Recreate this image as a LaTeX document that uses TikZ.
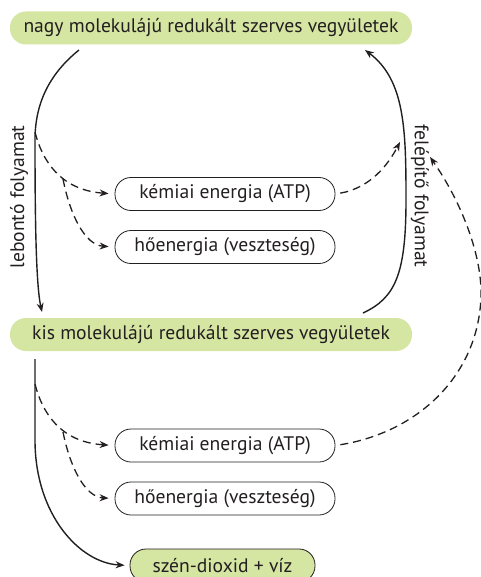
\documentclass[tikz,border=0pt]{standalone}
\usepackage{fontspec}
\setmainfont{PT Sans}
\usetikzlibrary{arrows.meta}
\definecolor{lgreen}{RGB}{213,229,162}
\definecolor{ink}{RGB}{35,31,32}
\begin{document}
\begin{tikzpicture}[x=1pt,y=-1pt,
  every node/.style={font=\fontsize{19.6}{22}\selectfont, text=ink, inner sep=0pt},
  greenbox/.style={fill=lgreen, rounded corners=16pt, minimum width=402pt, minimum height=33pt},
  energybox/.style={draw=ink, line width=0.8pt, rounded corners=16pt, minimum width=220pt, minimum height=33pt},
  co2box/.style={draw=ink, line width=0.8pt, fill=lgreen, rounded corners=16pt, minimum width=185pt, minimum height=33pt},
  solidarrow/.style={draw=ink, line width=1.4pt, -{Stealth[length=9pt,width=7pt]}},
  dasharrow/.style={draw=ink, line width=1.3pt, dash pattern=on 8pt off 5pt, -{Stealth[length=9pt,width=7pt]}},
  sidelabel/.style={font=\fontsize{19.6}{22}\selectfont}
]
\useasboundingbox (0,0) rectangle (480,577);

% nodes
\node[greenbox] (top) at (211,28) {nagy molekulájú redukált szerves vegyületek};
\node[greenbox] (kis) at (211,334.5) {kis molekulájú redukált szerves vegyületek};
\node[energybox] (atpA) at (225,194) {kémiai energia (ATP)};
\node[energybox] (heatA) at (225,247) {hőenergia (veszteség)};
\node[energybox] (atpB) at (225,445.5) {kémiai energia (ATP)};
\node[energybox] (heatB) at (225,498.5) {hőenergia (veszteség)};
\node[co2box] (co2) at (222.5,565.5) {szén-dioxid + víz};

\node[sidelabel, rotate=90] (lebonto) at (19,197) {lebontó folyamat};
\node[sidelabel, rotate=-90] (felepito) at (420,196) {felépítő folyamat};

% coordinates
\coordinate (Ls) at (79,50);
\coordinate (Lm) at (35,140);
\coordinate (Le) at (42,312);
\coordinate (Rs) at (363,313);
\coordinate (Rm) at (406,200);
\coordinate (Re) at (365,50);
\coordinate (Ld) at (35,132);
\coordinate (Lb) at (63,179);
\coordinate (Ra) at (400,142);
\coordinate (Rb) at (430,157);
\coordinate (Bs) at (35,359);
\coordinate (Bm) at (35,440);
\coordinate (Bd) at (35,384);
\coordinate (Bb) at (63,432);

% upper solid arcs
\draw[solidarrow] (Ls) .. controls (48,75) and (35,105) .. (Lm)
  .. controls (35,220) and (36,285) .. (Le);
\draw[solidarrow] (Rs) .. controls (395,298) and (406,275) .. (Rm)
  .. controls (406,130) and (405,80) .. (Re);

% upper dashed
\draw[dasharrow, shorten >=6pt] (Ld) .. controls (42,160) and (60,190) .. (atpA.west);
\draw[dasharrow, shorten >=6pt] (Lb) .. controls (70,215) and (85,245) .. (heatA.west);
\draw[dasharrow, shorten <=5pt] (atpA.east) .. controls (370,188) and (388,165) .. (Ra);

% lower solid
\draw[solidarrow, shorten >=5pt] (Bs) -- (Bm) .. controls (35,515) and (80,563) .. (co2.west);

% lower dashed
\draw[dasharrow, shorten >=6pt] (Bd) .. controls (42,412) and (60,442) .. (atpB.west);
\draw[dasharrow, shorten >=6pt] (Bb) .. controls (70,467) and (85,497) .. (heatB.west);
\draw[dasharrow, shorten <=5pt] (atpB.east) .. controls (420,432) and (482,372) .. (481,290)
  .. controls (480,250) and (460,200) .. (Rb);
\end{tikzpicture}
\end{document}
